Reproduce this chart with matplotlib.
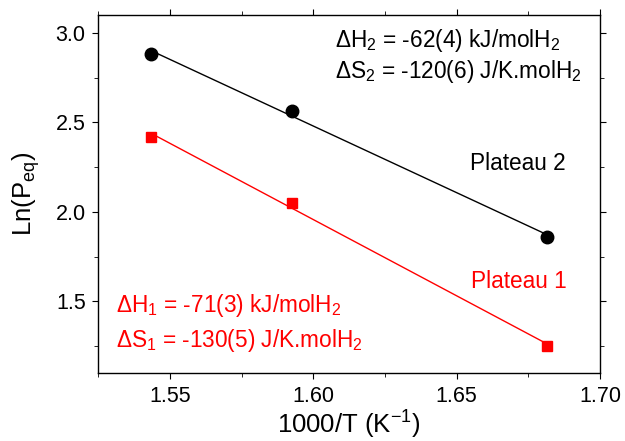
import matplotlib
matplotlib.use("Agg")
import matplotlib.pyplot as plt
import numpy as np

plt.rcParams['font.family'] = ['Liberation Sans', 'DejaVu Sans']
plt.rcParams['mathtext.fontset'] = 'custom'
plt.rcParams['mathtext.rm'] = 'Liberation Sans'
plt.rcParams['mathtext.it'] = 'Liberation Sans'

# data: 1000/T vs Ln(Peq)
x_p2 = [1.5434, 1.5927, 1.6815]
y_p2 = [2.881, 2.566, 1.862]
x_p1 = [1.5434, 1.5927, 1.6815]
y_p1 = [2.421, 2.049, 1.253]

fig = plt.figure(figsize=(6.25, 4.41), dpi=100)
ax = fig.add_axes([0.157, 0.154, 0.803, 0.812])

# linear fits
for xs, ys, c in [(x_p2, y_p2, 'black'), (x_p1, y_p1, 'red')]:
    k, b = np.polyfit(xs, ys, 1)
    xx = np.array([xs[0], xs[-1]])
    ax.plot(xx, k * xx + b, color=c, lw=1)

ax.plot(x_p2, y_p2, 'o', color='black', ms=9, ls='none')
ax.plot(x_p1, y_p1, 's', color='red', ms=7.5, ls='none')

ax.set_xlim(1.525, 1.70)
ax.set_ylim(1.1, 3.1)
ax.set_xticks([1.55, 1.60, 1.65, 1.70])
ax.set_xticks([1.525, 1.575, 1.625, 1.675], minor=True)
ax.set_yticks([1.5, 2.0, 2.5, 3.0])
ax.set_yticks([1.25, 1.75, 2.25, 2.75], minor=True)
ax.xaxis.set_major_formatter(plt.FormatStrFormatter('%.2f'))
ax.yaxis.set_major_formatter(plt.FormatStrFormatter('%.1f'))
ax.tick_params(which='both', direction='out', top=True, right=True, labelsize=15.5)
ax.tick_params(axis='x', pad=5.5)
ax.tick_params(axis='y', pad=5)
ax.tick_params(which='major', length=4)
ax.tick_params(which='minor', length=3)
for sp in ax.spines.values():
    sp.set_linewidth(1)

ax.set_xlabel(r'1000/T (K$^{-1}$)', fontsize=18.5, labelpad=1)
ax.set_ylabel(r'Ln(P$_{\mathrm{eq}}$)', fontsize=18.5, labelpad=10)

fs = 16.3
ax.text(335, 394, r'$\Delta$H$_2$ = -62(4) kJ/molH$_2$', transform=None, fontsize=fs, va='baseline')
ax.text(335, 363, r'$\Delta$S$_2$ = -120(6) J/K.molH$_2$', transform=None, fontsize=fs, va='baseline')
ax.text(470, 271, 'Plateau 2', transform=None, fontsize=fs, va='baseline')
ax.text(471, 153, 'Plateau 1', transform=None, fontsize=fs, va='baseline', color='red')
ax.text(116, 129, r'$\Delta$H$_1$ = -71(3) kJ/molH$_2$', transform=None, fontsize=fs, va='baseline', color='red')
ax.text(116, 94, r'$\Delta$S$_1$ = -130(5) J/K.molH$_2$', transform=None, fontsize=fs, va='baseline', color='red')

fig.savefig('out.png', dpi=100)
